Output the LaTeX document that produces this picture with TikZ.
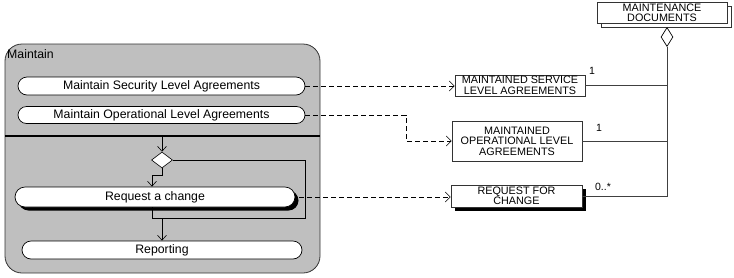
\documentclass[tikz,border=0pt]{standalone}
\usepackage{fontspec}
\setmainfont{Liberation Sans}
\usetikzlibrary{arrows.meta,shapes.geometric,shapes.misc,shadows}
\begin{document}
\begin{tikzpicture}[x=1pt,y=-1pt,
  act/.style={draw=black, fill=white, rounded rectangle, line width=0.7pt, minimum height=18pt, inner sep=0pt, font=\fontsize{12.3}{14}\selectfont},
  cls/.style={draw=black!80, fill=white, line width=0.7pt, inner sep=0pt, align=center, font=\fontsize{10.8}{10.5}\selectfont},
  shad/.style={drop shadow={fill=black, opacity=1, shadow xshift=3.5pt, shadow yshift=-3.5pt}},
  flow/.style={draw=black, line width=0.6pt, -{Straight Barb[length=5pt,width=9pt]}},
  plain/.style={draw=black, line width=0.6pt},
  dep/.style={draw=black, line width=0.6pt, dash pattern=on 5pt off 3pt, -{Straight Barb[length=5pt,width=10pt]}},
  assoc/.style={draw=black!75, line width=0.8pt},
  mult/.style={font=\fontsize{10.5}{12}\selectfont, inner sep=0pt}
]
\useasboundingbox (0,0) rectangle (734,277);

% container
\node[draw=black!80, fill=gray!50, rounded corners=17pt, line width=0.8pt, minimum width=315pt, minimum height=229pt, inner sep=0pt] (maintain) at (162.5,158.5) {};
\node[anchor=west, inner sep=0pt, font=\fontsize{12.3}{14}\selectfont] (lbl) at (7,54) {Maintain};
\coordinate (dl) at (5,136);
\coordinate (dr) at (320,136);
\draw[line width=2.2pt] (dl) -- (dr);

% activities
\node[act, minimum width=287pt] (msla) at (161.5,86) {Maintain Security Level Agreements};
\node[act, minimum width=287pt, minimum height=17pt] (mola) at (161.5,115) {Maintain Operational Level Agreements};
\node[act, shad, minimum width=280pt, minimum height=20pt] (rac) at (155,197) {Request a change};
\node[act, minimum width=280pt] (rep) at (162,250) {Reporting};

% decision
\node[diamond, draw=black, fill=white, line width=0.6pt, minimum width=21pt, minimum height=16pt, inner sep=0pt] (dec) at (162,160) {};

\coordinate (j1) at (152,175);
\coordinate (r1) at (305,160);
\coordinate (r2) at (305,218);
\coordinate (j2) at (152,218);
\coordinate (j3) at (162,218);

\draw[flow] (dec.north |- dl) -- (dec.north);
\draw[flow] (dec.south) |- (j1) -- (j1 |- rac.north);
\draw[plain] (dec.east) -- (r1) -- (r2) -- (j2) -- (j2 |- rac.south);
\draw[flow] (j3) -- (rep.north);

% classes
\node[cls, minimum width=130pt, minimum height=21pt] (msl) at (520,85.5) {MAINTAINED SERVICE\\LEVEL AGREEMENTS};
\node[cls, minimum width=130pt, minimum height=40pt] (mol) at (517,141) {MAINTAINED\\OPERATIONAL LEVEL\\AGREEMENTS};
\node[cls, shad, minimum width=131pt, minimum height=22pt] (rfc) at (516.5,196) {REQUEST FOR\\CHANGE};
\node[cls, minimum width=130pt, minimum height=21pt] (mdback) at (666,16.5) {};
\node[cls, minimum width=130pt, minimum height=21pt] (md) at (662,13) {MAINTENANCE\\DOCUMENTS};

% dependencies
\coordinate (bend) at (406,115);
\draw[dep] (msla.east) -- (msla.east -| msl.west);
\draw[dep] (mola.east) -- (bend) |- (mol.west);
\draw[dep] (rac.east) ++(4pt,0) -- (rac.east -| rfc.west);

% aggregation
\node[diamond, draw=black, fill=white, line width=0.7pt, minimum width=12pt, minimum height=19pt, inner sep=0pt] (agg) at (667,37) {};
\draw[assoc] (agg.south) |- (rfc.east);
\draw[assoc] (msl.east) -- (msl.east -| agg.south);
\draw[assoc] (mol.east) -- (mol.east -| agg.south);
\node[mult] (m1) at (592,71) {1};
\node[mult] (m2) at (599,128) {1};
\node[mult] (m3) at (603,187) {0..*};
\end{tikzpicture}
\end{document}
